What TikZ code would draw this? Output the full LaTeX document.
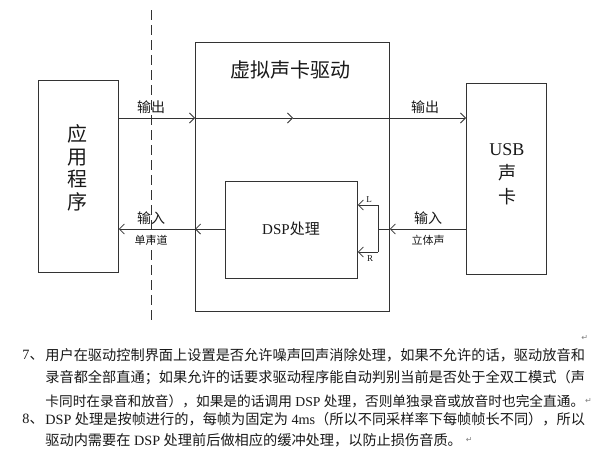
\documentclass[tikz,border=0pt]{standalone}
\usepackage{fontspec}
\setmainfont{Liberation Serif}
\newfontfamily\cjk{Noto Sans CJK SC}
\newfontfamily\dv{DejaVu Sans}
\usetikzlibrary{arrows.meta}
\tikzset{
  box/.style={draw, inner sep=0pt, anchor=north west},
  arr/.style={-{Straight Barb[length=5pt,width=10pt]}},
  lbl/.style={font={\cjk\fontsize{14}{14}\selectfont}, inner sep=0pt},
  smalllbl/.style={font={\cjk\fontsize{11}{11}\selectfont}, inner sep=0pt},
  lr/.style={font={\fontsize{9}{9}\selectfont}, inner sep=0pt},
  para/.style={font={\fontsize{14.2}{14.2}\selectfont}, inner sep=0pt, anchor=west},
  ret/.style={font={\dv\fontsize{8}{8}\selectfont}, text=gray, inner sep=0pt, anchor=west},
}
\begin{document}
\begin{tikzpicture}[x=1pt,y=-1pt, line width=0.8pt, draw=black!80, text=black!90]
\path[use as bounding box, fill=white] (0,0) rectangle (598,455);

% dashed divider
\coordinate (dtop) at (151,10);
\coordinate (dbot) at (151,320);
\draw[dash pattern=on 10pt off 5pt] (dtop) -- (dbot);

% boxes
\node[box, minimum width=80pt, minimum height=192pt] (app) at (38,80) {};
\node[box, minimum width=194pt, minimum height=269pt] (drv) at (195,42) {};
\node[box, minimum width=132pt, minimum height=97pt] (dsp) at (225,181) {};
\node[box, minimum width=80pt, minimum height=191pt] (usb) at (466,83) {};

% box texts
\node[font={\cjk\fontsize{20}{22.5}\selectfont}, align=center, inner sep=0pt] (apptxt) at (77,168) {应\\用\\程\\序};
\node[font={\cjk\fontsize{20}{20}\selectfont}, inner sep=0pt] (title) at (290,70) {虚拟声卡驱动};
\node[font={\fontsize{15}{15}\selectfont}, inner sep=0pt] (dsptxt) at (291,229) {DSP{\cjk 处理}};
\node[font={\fontsize{18}{24}\selectfont}, align=center, inner sep=0pt] (usbtxt) at (507,174) {USB\\{\cjk 声}\\{\cjk 卡}};

% output path
\coordinate (yout) at (0,118);
\coordinate (mid) at (293,118);
\draw[arr] (app.east |- yout) -- (drv.west |- yout);
\draw[arr] (drv.west |- yout) -- (mid);
\draw[arr] (mid) -- (usb.west |- yout);
\node[lbl] (out1) at (151,107) {输出};
\node[lbl] (out2) at (425,107) {输出};

% input path left
\coordinate (yin) at (0,229);
\draw[arr] (dsp.west |- yin) -- (drv.west |- yin);
\draw[arr] (drv.west |- yin) -- (app.east |- yin);
\node[lbl] (in1) at (151,218) {输入};
\node[smalllbl] (mono) at (151,240) {单声道};

% input path right
\coordinate (br) at (378,229);
\coordinate (bL) at (378,205);
\coordinate (bR) at (378,252);
\draw[arr] (usb.west |- yin) -- (drv.east |- yin);
\draw (drv.east |- yin) -- (br);
\draw (bL) -- (bR);
\draw[arr] (bL) -- (dsp.east |- bL);
\draw[arr] (bR) -- (dsp.east |- bR);
\node[lr] (Ltxt) at (369,200) {L};
\node[lr] (Rtxt) at (370,259) {R};
\node[lbl] (in2) at (428,218) {输入};
\node[smalllbl] (stereo) at (428,240) {立体声};

% paragraph text
\node[ret] (r0) at (581,338) {↵};
\node[para] (n7) at (22,355) {7{\cjk 、}};
\node[para] (p1) at (45,355) {{\cjk 用户在驱动控制界面上设置是否允许噪声回声消除处理，如果不允许的话，驱动放音和}};
\node[para] (p2) at (45,378) {{\cjk 录音都全部直通；如果允许的话要求驱动程序能自动判别当前是否处于全双工模式（声}};
\node[para, font={\fontsize{13.7}{13.7}\selectfont}] (p3) at (45,401) {{\cjk 卡同时在录音和放音），如果是的话调用} DSP {\cjk 处理，否则单独录音或放音时也完全直通。}};
\node[ret] (r3) at (p3.east) {↵};
\node[para] (n8) at (22,419) {8{\cjk 、}};
\node[para] (p4) at (45,419) {DSP {\cjk 处理是按帧进行的，每帧为固定为} 4ms{\cjk （所以不同采样率下每帧帧长不同），所以}};
\node[para] (p5) at (45,440) {{\cjk 驱动内需要在} DSP {\cjk 处理前后做相应的缓冲处理，以防止损伤音质。}};
\node[ret] (r5) at ([xshift=3pt]p5.east) {↵};
\end{tikzpicture}
\end{document}
